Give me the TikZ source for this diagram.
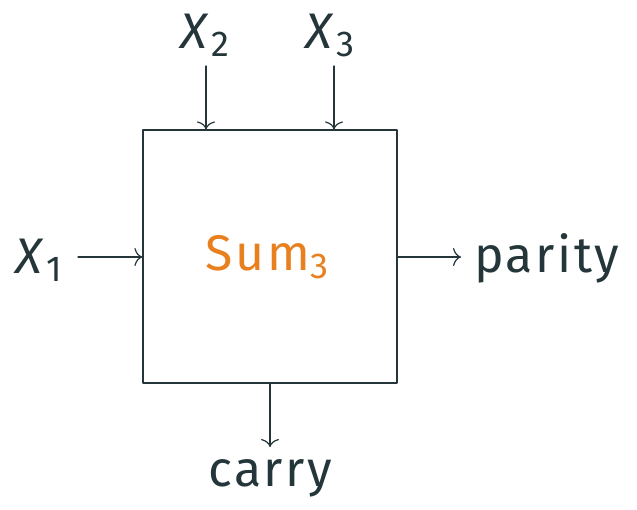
\documentclass[tikz,border=0pt]{standalone}
\usepackage{fontspec}
\setmainfont{Fira Sans}[LetterSpace=5]
\usetikzlibrary{calc,arrows.meta}
\definecolor{ink}{RGB}{36,54,58}
\definecolor{accent}{RGB}{232,128,32}

\newcommand{\subidx}[1]{\raisebox{-8pt}{\fontsize{36}{40}\selectfont #1}}

\tikzset{
  lbl/.style={font=\fontsize{50}{56}\selectfont,text=ink,inner sep=0pt},
  conn/.style={draw=ink,line width=1.2pt,-{Computer Modern Rightarrow[length=8pt,width=18pt]}},
}

\begin{document}
\begin{tikzpicture}[x=1pt,y=-1pt,line cap=round,line join=round]
\useasboundingbox (0,0) rectangle (637,509);
\node[draw=ink,line width=1.2pt,minimum width=254pt,minimum height=253pt,inner sep=0pt] (sum) at (270,256.5) {};
\node[lbl,text=accent] (name) at (267,257) {Sum\subidx{3}};
\node[lbl] (x1) at (39,260) {\textit{X}\subidx{1}};
\node[lbl] (x2) at (205,35) {\textit{X}\subidx{2}};
\node[lbl] (x3) at (330,35) {\textit{X}\subidx{3}};
\node[lbl,anchor=west] (par) at (474,258) {parity};
\node[lbl] (car) at (270,478) {carry};
\coordinate (x1in) at (78,257);
\coordinate (x2in) at (206,66);
\coordinate (x3in) at (334,66);
\coordinate (parout) at (461,257);
\coordinate (carout) at (270,447);
\draw[conn] (x1in) -- (x1in -| sum.west);
\draw[conn] (x2in) -- (x2in |- sum.north);
\draw[conn] (x3in) -- (x3in |- sum.north);
\draw[conn] (parout -| sum.east) -- (parout);
\draw[conn] (carout |- sum.south) -- (carout);
\end{tikzpicture}
\end{document}
